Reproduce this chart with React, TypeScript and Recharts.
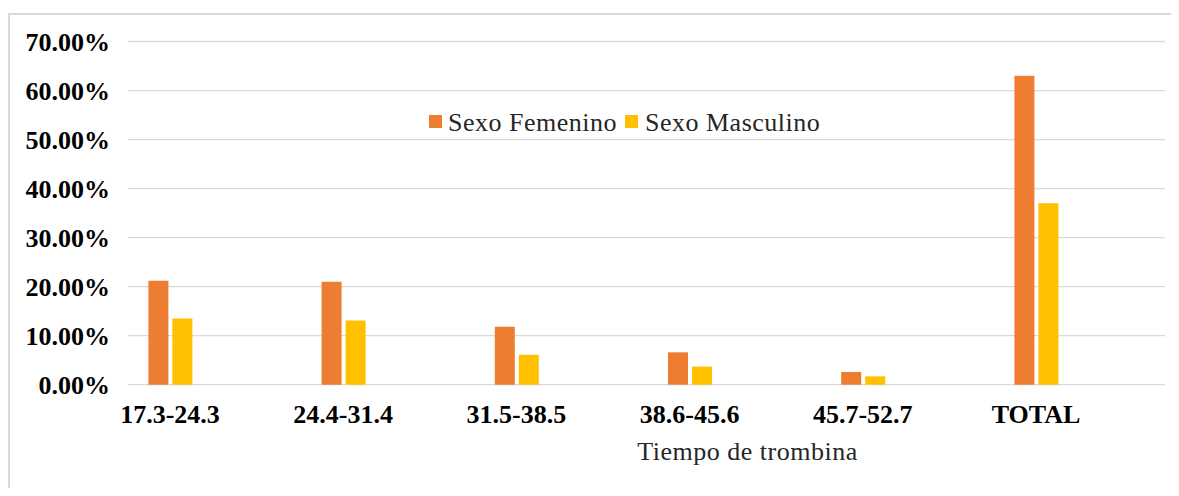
import React from 'react';
import { BarChart, Bar, XAxis, YAxis, CartesianGrid, Legend } from 'recharts';

const categories = ['17.3-24.3', '24.4-31.4', '31.5-38.5', '38.6-45.6', '45.7-52.7', 'TOTAL'];
const femenino = [21.2, 21.0, 11.8, 6.6, 2.6, 63.0];
const masculino = [13.5, 13.1, 6.1, 3.7, 1.7, 37.0];
const yTicks = [0, 10, 20, 30, 40, 50, 60, 70];

const seriesNames = { fem: 'Sexo Femenino', mas: 'Sexo Masculino' };
const colors = { fem: '#ED7D31', mas: '#FFC000' };

const data = categories.map((c, i) => ({ cat: c, fem: femenino[i], mas: masculino[i] }));

const SERIF = '"Liberation Serif", "Times New Roman", serif';

const LegendContent = () => (
  <div style={{ display: 'flex', alignItems: 'flex-start', fontFamily: SERIF, fontSize: 26, lineHeight: '26px', color: '#262626', letterSpacing: 0.5, whiteSpace: 'nowrap' }}>
    <span style={{ width: 13, height: 13, background: colors.fem, marginTop: 5.7, marginRight: 6 }} />
    <span style={{ marginRight: 8 }}>{seriesNames.fem}</span>
    <span style={{ width: 13, height: 13, background: colors.mas, marginTop: 5.7, marginRight: 7 }} />
    <span>{seriesNames.mas}</span>
  </div>
);

const AxisTitle = (props: any) => {
  const vb = props.viewBox || { x: 0, y: 0, width: 0, height: 0 };
  return (
    <text x={vb.x + vb.width / 2 + 101} y={vb.y + 75.3} textAnchor="middle" fontFamily={SERIF} fontSize={26} letterSpacing={0.5} fill="#262626">
      Tiempo de trombina
    </text>
  );
};

export default function App() {
  return (
    <div style={{ position: 'relative', width: 1163, height: 480, background: '#fff' }}>
      <div style={{ position: 'absolute', left: 0, top: 5, width: 1163, height: 1.5, background: '#d9d9d9' }} />
      <div style={{ position: 'absolute', left: 0, top: 5, width: 1.5, height: 475, background: '#d9d9d9' }} />
      <div style={{ position: 'absolute', left: 0, top: 0 }}>
        <BarChart width={1163} height={480} data={data} margin={{ top: 33.5, right: 6, bottom: 43.3, left: 0 }} barGap={4} barSize={20}>
          <CartesianGrid vertical={false} stroke="#d9d9d9" strokeWidth={1.3} />
          <XAxis
            dataKey="cat"
            height={60}
            interval={0}
            padding={{ left: -44.6, right: 42.4 }}
            tickLine={false}
            axisLine={false}
            tickMargin={14}
            tick={{ fontFamily: SERIF, fontSize: 26, fontWeight: 'bold', fill: '#000' }}
            label={<AxisTitle />}
          />
          <YAxis
            width={120}
            domain={[0, 70]}
            ticks={yTicks}
            interval={0}
            tickFormatter={(v: number) => `${v.toFixed(2)}%`}
            tickLine={false}
            axisLine={false}
            tickMargin={12}
            tick={{ fontFamily: SERIF, fontSize: 26, fontWeight: 'bold', fill: '#000' }}
          />
          <Legend
            layout="horizontal"
            verticalAlign="middle"
            align="center"
            content={<LegendContent />}
            wrapperStyle={{ left: 421, top: 101.7, width: 'auto', height: 'auto' }}
          />
          <Bar dataKey="fem" name={seriesNames.fem} fill={colors.fem} isAnimationActive={false} />
          <Bar dataKey="mas" name={seriesNames.mas} fill={colors.mas} isAnimationActive={false} />
        </BarChart>
      </div>
    </div>
  );
}
